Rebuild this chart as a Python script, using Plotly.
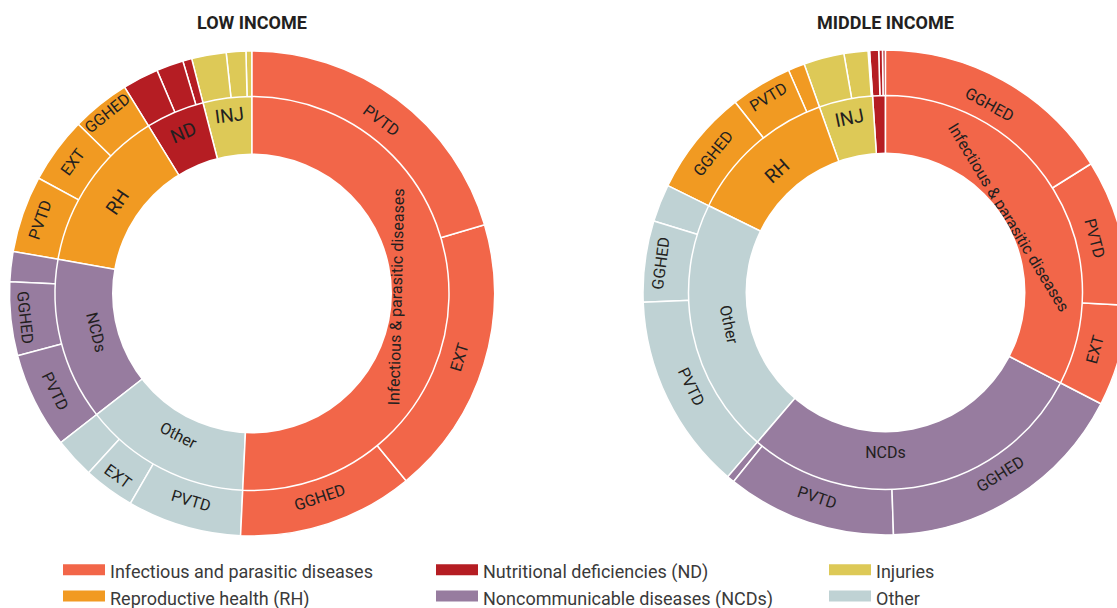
import plotly.graph_objects as go

# The right-hand ring runs past the right edge of the 1117 px window in the
# reference, so the figure is a little wider and the page hides the overflow.
W, H = 1128, 608
FONT = "Roboto, Arial, sans-serif"
TEXT_DARK = "#231F20"

# ---------------- data ----------------
category_keys = ["INF", "RH", "ND", "NCD", "INJ", "OTH"]
category_labels = ["Infectious & parasitic diseases", "RH", "ND", "NCDs", "INJ", "Other"]
legend_labels = ["Infectious and parasitic diseases", "Reproductive health (RH)",
                 "Nutritional deficiencies (ND)", "Noncommunicable diseases (NCDs)",
                 "Injuries", "Other"]
category_colors = ["#F26649", "#F19A22", "#B51D23", "#977C9F", "#DDC957", "#BFD2D4"]

# Low income: share of spending (%) by disease group and financing source
# (listed clockwise from 12 o'clock)
low_order = ["INF", "OTH", "NCD", "RH", "ND", "INJ"]
low_sources = [["PVTD", "EXT", "GGHED"],
               ["PVTD", "EXT", "GGHED"],
               ["PVTD", "GGHED", "EXT"],
               ["PVTD", "EXT", "GGHED"],
               ["PVTD", "EXT", "GGHED"],
               ["PVTD", "EXT", "GGHED"]]
low_values = [[20.4, 18.6, 11.7],
              [7.6, 3.4, 2.7],
              [6.4, 4.9, 2.0],
              [5.1, 4.4, 3.9],
              [2.4, 1.8, 0.6],
              [2.3, 1.3, 0.4]]

# Middle income
mid_order = ["INF", "NCD", "OTH", "RH", "INJ", "ND"]
mid_sources = [["GGHED", "PVTD", "EXT"],
               ["GGHED", "PVTD", "EXT"],
               ["PVTD", "GGHED", "EXT"],
               ["GGHED", "PVTD", "EXT"],
               ["PVTD", "GGHED", "EXT"],
               ["GGHED", "EXT", "PVTD"]]
mid_values = [[16.1, 9.75, 6.75],
              [16.9, 11.3, 0.5],
              [13.1, 5.4, 2.5],
              [7.1, 4.1, 1.1],
              [2.7, 1.6, 0.1],
              [0.6, 0.25, 0.2]]

titles = ["LOW INCOME", "MIDDLE INCOME"]
LABEL_MIN = 3.0  # segments smaller than this share carry no label

# ---------------- geometry (px) ----------------
CENTERS = [(252, 293.5), (885.5, 292.5)]
R_OUT, R_MID, R_HOLE = 242.5, 197, 140
CLEAR = "rgba(0,0,0,0)"


def domain(cx, cy, r):
    return dict(x=[(cx - r) / W, (cx + r) / W], y=[(H - cy - r) / H, (H - cy + r) / H])


def hidden_levels(n, ids, labels, parents, vals, colors, lws, text, tsize):
    parent = ""
    for k in range(n):
        h = "lvl%d" % k
        ids.append(h); labels.append(h); parents.append(parent); vals.append(0)
        colors.append(CLEAR); lws.append(0); text.append(""); tsize.append(10)
        parent = h
    return parent


def common(ids, labels, parents, vals, colors, lws, text, tsize, dom):
    return go.Sunburst(
        ids=ids, labels=labels, parents=parents, values=vals,
        branchvalues="remainder", sort=False, rotation=90,
        marker=dict(colors=colors, line=dict(color="white", width=lws)),
        leaf=dict(opacity=1),
        text=text, texttemplate="%{text}",
        textfont=dict(size=tsize, family=FONT, color=TEXT_DARK),
        insidetextorientation="tangential",
        hoverinfo="skip", domain=dom,
    )


def build_outer(order, sources, values, dom):
    """financing-source ring (outermost of 5 equal levels, 4 hidden)."""
    L = ([], [], [], [], [], [], [], [])
    parent = hidden_levels(4, *L)
    ids, labels, parents, vals, colors, lws, text, tsize = L
    # plotly lays sectors out counter-clockwise, so feed them in reverse
    for key, srcs, vs in reversed(list(zip(order, sources, values))):
        i = category_keys.index(key)
        for s, v in reversed(list(zip(srcs, vs))):
            ids.append(key + "_" + s); labels.append(s); parents.append(parent); vals.append(v)
            colors.append(category_colors[i]); lws.append(1.5)
            text.append(s if v >= LABEL_MIN else "")
            tsize.append(16)
    return common(*L, dom)


def build_inner(order, sources, values, dom):
    """disease-group ring (outermost of 3 equal levels, 2 hidden)."""
    L = ([], [], [], [], [], [], [], [])
    parent = hidden_levels(2, *L)
    ids, labels, parents, vals, colors, lws, text, tsize = L
    for key, vs in reversed(list(zip(order, values))):
        i = category_keys.index(key)
        lab = category_labels[i]
        ids.append("cat_" + key); labels.append(lab); parents.append(parent); vals.append(sum(vs))
        colors.append(category_colors[i]); lws.append(1.5)
        text.append(lab if sum(vs) >= LABEL_MIN else "")
        tsize.append(19 if len(lab) <= 3 else 16)
    return common(*L, dom)


def build_hole(dom):
    return go.Sunburst(ids=["hole"], labels=["hole"], parents=[""], values=[1],
                       marker=dict(colors=["white"], line=dict(color="white", width=0)),
                       leaf=dict(opacity=1),
                       text=[""], texttemplate="%{text}", hoverinfo="skip", domain=dom)


fig = go.Figure()
for (cx, cy), (order, srcs, vals) in zip(
        CENTERS, [(low_order, low_sources, low_values), (mid_order, mid_sources, mid_values)]):
    fig.add_trace(build_outer(order, srcs, vals, domain(cx, cy, R_OUT)))
    fig.add_trace(build_inner(order, srcs, vals, domain(cx, cy, R_MID)))
    fig.add_trace(build_hole(domain(cx, cy, R_HOLE)))

# legend entries (three columns); filled + thick line gives a wide swatch
legend_cols = ["legend", "legend2", "legend3", "legend", "legend2", "legend3"]
legend_seq = [0, 2, 4, 1, 3, 5]
for idx, lg in zip(legend_seq, legend_cols):
    c = category_colors[idx]
    fig.add_trace(go.Scatter(
        x=[None], y=[None], mode="lines", fill="toself", fillcolor=c,
        line=dict(width=10, color=c), name=legend_labels[idx],
        legend=lg, hoverinfo="skip",
    ))

IW = 42
leg_common = dict(yanchor="top", xanchor="left", orientation="v",
                  font=dict(family=FONT, size=18, color="#3A3A3A"),
                  bgcolor="rgba(0,0,0,0)", itemwidth=IW, tracegroupgap=0,
                  traceorder="normal")
annotations = []
for t, (cx, cy) in zip(titles, CENTERS):
    annotations.append(dict(
        text="<b>" + t + "</b>", x=cx / W, y=1 - 23 / H,
        xref="paper", yref="paper", xanchor="center", yanchor="middle",
        showarrow=False, font=dict(family=FONT, size=18, color=TEXT_DARK)))

LEG_TOP = 1 - 553 / H
SWATCH_X = [64, 437, 830]
fig.update_layout(
    width=W, height=H,
    margin=dict(l=0, r=0, t=0, b=0, autoexpand=False),
    paper_bgcolor="white", plot_bgcolor="white",
    xaxis=dict(visible=False), yaxis=dict(visible=False),
    showlegend=True,
    legend=dict(x=(SWATCH_X[0] - 6) / W, y=LEG_TOP, **leg_common),
    legend2=dict(x=(SWATCH_X[1] - 6) / W, y=LEG_TOP, **leg_common),
    legend3=dict(x=(SWATCH_X[2] - 6) / W, y=LEG_TOP, **leg_common),
    annotations=annotations,
)

fig.write_html(
    "out.html",
    config={"displayModeBar": False},
    post_script="document.body.style.margin='0';document.body.style.overflow='hidden';"
                "document.documentElement.style.overflow='hidden';",
)
